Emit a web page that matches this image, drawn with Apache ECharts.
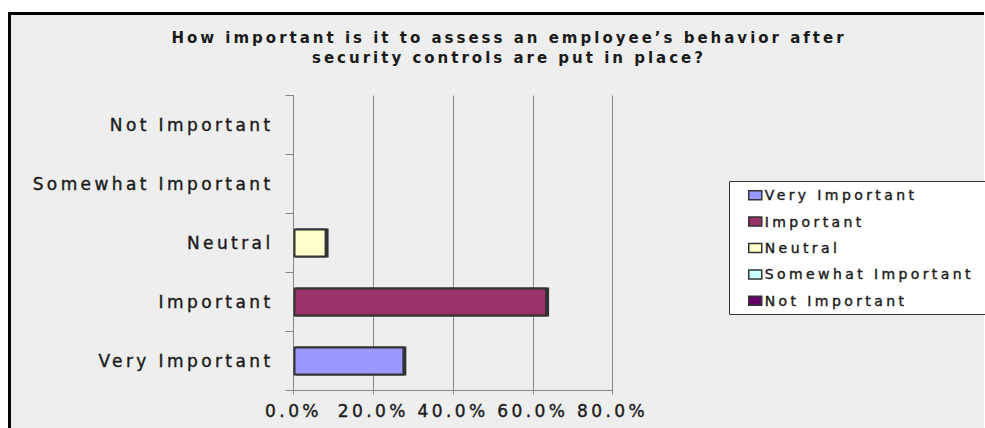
<!DOCTYPE html>
<html>
<head>
<meta charset="utf-8">
<script src="https://cdn.jsdelivr.net/npm/echarts@6/dist/echarts.min.js"></script>
<style>
  html, body { margin: 0; padding: 0; background: #ffffff; }
  #chart { width: 985px; height: 428px; }
  /* wide, spaced lettering of the original Excel export */
  #chart text { letter-spacing: 3.4px; }
  #chart text[style*="bold"], #chart text[font-weight="bold"] { letter-spacing: 3px; }
</style>
</head>
<body>
<div id="chart"></div>
<script>
// Survey answers, bottom to top on the category axis
const categories = ['Very Important', 'Important', 'Neutral', 'Somewhat Important', 'Not Important'];
// Share of respondents (%) for each answer, same order as categories
const shares = [27.8, 63.6, 8.3, 0, 0];
// Fill colour for each answer, same order as categories
const colors = ['#9999FF', '#993366', '#FFFFCC', '#CCFFFF', '#660066'];
// Value-axis tick values (%)
const xTicks = [0, 20, 40, 60, 80];

const titleText = 'How important is it to assess an employee\u2019s behavior after\nsecurity controls are put in place?';
const FONT = '"DejaVu Sans", Verdana, sans-serif';
const INK = '#1a1a1a';

// One stacked series per answer so the legend lists every answer
const series = categories.map((name, i) => ({
  name: name,
  type: 'bar',
  stack: 'answers',
  barWidth: 29,
  itemStyle: {
    color: colors[i],
    borderColor: '#333333',
    borderWidth: 2,
    shadowColor: '#333333',
    shadowOffsetX: 2,
    shadowOffsetY: 0,
    shadowBlur: 0
  },
  data: categories.map((c, j) => (j === i && shares[j] > 0) ? shares[j] : '-')
}));

const chart = echarts.init(document.getElementById('chart'), null, { renderer: 'svg' });
chart.setOption({
  backgroundColor: '#ffffff',
  animation: false,
  title: {
    text: titleText,
    left: 504,
    textAlign: 'center',
    top: 23,
    textStyle: { fontFamily: FONT, fontSize: 15, fontWeight: 'bold', color: INK, lineHeight: 20 }
  },
  graphic: [
    { type: 'rect', z: -10, shape: { x: 8, y: 12, width: 976, height: 420 }, style: { fill: '#eeeeee' } },
    { type: 'rect', z: -9, shape: { x: 8, y: 12, width: 976, height: 3 }, style: { fill: '#000000' } },
    { type: 'rect', z: -9, shape: { x: 8, y: 12, width: 3, height: 420 }, style: { fill: '#000000' } },
    { type: 'rect', z: -8, shape: { x: 729.5, y: 181.5, width: 270, height: 133 }, style: { fill: '#ffffff', stroke: '#333333', lineWidth: 1 } }
  ],
  legend: {
    orient: 'vertical',
    left: 748,
    top: 188,
    padding: 0,
    itemWidth: 13,
    itemHeight: 9,
    itemGap: 12,
    icon: 'rect',
    data: categories,
    itemStyle: { borderColor: '#333333', borderWidth: 1.5, shadowBlur: 0, shadowOffsetX: 0 },
    textStyle: { fontFamily: FONT, fontSize: 14, color: INK, textBorderColor: INK, textBorderWidth: 0.4, padding: [0, 0, 0, -2] }
  },
  grid: { left: 293.5, top: 95.5, width: 319, height: 295, containLabel: false },
  xAxis: {
    type: 'value',
    min: xTicks[0],
    max: xTicks[xTicks.length - 1],
    interval: xTicks[1] - xTicks[0],
    axisLine: { show: true, lineStyle: { color: '#888888', width: 1 } },
    axisTick: { show: true, length: 4, lineStyle: { color: '#888888' } },
    splitLine: { show: true, lineStyle: { color: '#888888', width: 1 } },
    axisLabel: {
      margin: 12,
      fontFamily: FONT, fontSize: 17, color: INK, textBorderColor: INK, textBorderWidth: 0.4,
      formatter: v => v.toFixed(1) + '%'
    }
  },
  yAxis: {
    type: 'category',
    data: categories,
    axisLine: { show: true, lineStyle: { color: '#888888', width: 1 } },
    axisTick: { show: true, length: 8, lineStyle: { color: '#888888' } },
    splitLine: { show: false },
    axisLabel: { margin: 20, fontFamily: FONT, fontSize: 17, color: INK, textBorderColor: INK, textBorderWidth: 0.4 }
  },
  series: series
});
</script>
</body>
</html>
